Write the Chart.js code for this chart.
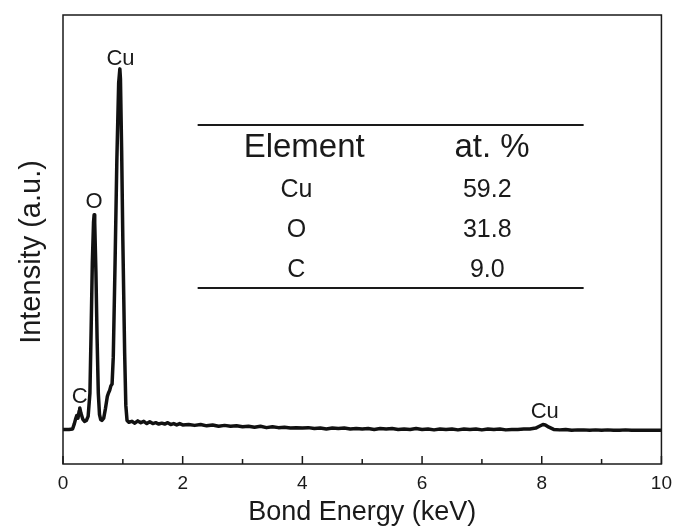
<!DOCTYPE html>
<html>
<head>
<meta charset="utf-8">
<script src="https://cdn.jsdelivr.net/npm/chart.js@4.4.1/dist/chart.umd.min.js"></script>
<style>
  html, body { margin: 0; padding: 0; background: #fff; }
  #wrap { width: 680px; height: 532px; }
</style>
</head>
<body>
<div id="wrap"><canvas id="eds"></canvas></div>
<script>
// スペクトル (keV, 強度 a.u.)
const energies = [
  0.00, 0.10, 0.16, 0.19, 0.21, 0.23, 0.25, 0.27, 0.28, 0.30, 0.33, 0.36, 0.39, 0.42,
  0.45, 0.47, 0.49, 0.51, 0.52, 0.53, 0.55, 0.57, 0.59, 0.61, 0.63, 0.65, 0.68, 0.71,
  0.74, 0.76, 0.78, 0.80, 0.82, 0.84, 0.87, 0.90, 0.93, 0.95, 0.96, 0.98, 1.00, 1.03,
  1.05, 1.07, 1.10,
  1.15, 1.2, 1.25, 1.3, 1.35, 1.4, 1.45, 1.5, 1.55, 1.6, 1.65, 1.7, 1.75, 1.8, 1.85, 1.9, 1.95, 2.0,
  2.1, 2.2, 2.3, 2.4, 2.5, 2.6, 2.7, 2.8, 2.9, 3.0, 3.1, 3.2, 3.3, 3.4, 3.5, 3.6, 3.7, 3.8, 3.9,
  4.0, 4.1, 4.2, 4.3, 4.4, 4.5, 4.6, 4.7, 4.8, 4.9, 5.0, 5.1, 5.2, 5.3, 5.4, 5.5, 5.6, 5.7, 5.8,
  5.9, 6.0, 6.1, 6.2, 6.3, 6.4, 6.5, 6.6, 6.7, 6.8, 6.9, 7.0, 7.1, 7.2, 7.3, 7.4, 7.5, 7.6, 7.7,
  7.8, 7.9, 7.96, 8.02, 8.06, 8.12, 8.2, 8.3, 8.4, 8.5, 8.6, 8.7, 8.8, 8.9, 9.0, 9.1, 9.2, 9.3,
  9.4, 9.5, 9.6, 9.7, 9.8, 9.9, 10.0
];
const counts = [
  77, 77, 78, 90, 100, 108, 102, 118, 125, 113, 100, 95, 97, 106,
  158, 298, 448, 538, 555, 538, 428, 278, 158, 110, 99, 97, 102, 124,
  150, 158, 164, 174, 178, 238, 448, 678, 848, 880, 858, 698, 498, 248,
  130, 97, 93,
  95, 91, 96, 92, 95, 90, 94, 90, 92, 89, 91, 89, 92, 88, 90, 87, 90, 87,
  88, 86, 88, 85, 87, 84, 86, 84, 85, 83, 84, 82, 84, 81, 83, 81, 82, 80, 81,
  80, 81, 79, 80, 78, 80, 79, 80, 78, 79, 78, 79, 77, 79, 78, 79, 77, 78, 77,
  79, 77, 78, 76, 78, 77, 78, 76, 78, 77, 78, 76, 78, 77, 78, 76, 77, 77, 78,
  78, 80, 84, 88, 87, 82, 77, 76, 77, 75, 76, 76, 75, 76, 75, 76, 75, 75,
  76, 75, 75, 75, 75, 75, 75
];

// ピークラベル
const peakNames = ["Cu", "O", "C", "Cu"];
const peakEnergy = [0.96, 0.52, 0.28, 8.05];
const peakLabelY = [889, 570, 136, 102];

// 組成表
const tableHeader = ["Element", "at. %"];
const tableHeaderX = [4.03, 7.17];
const tableHeaderY = 684;
const elements = ["Cu", "O", "C"];
const atPercent = ["59.2", "31.8", "9.0"];
const rowY = [595, 506, 417];
const colX = [3.9, 7.09];
const ruleX = [2.25, 8.70];
const ruleY = [755, 392];

const xMajor = [0, 2, 4, 6, 8, 10];
const xMinor = [1, 3, 5, 7, 9];

const FONT = "'Liberation Sans', Arial, sans-serif";
const INK = "#1a1a1a";

const decorPlugin = {
  id: "decor",
  afterDatasetsDraw(chart) {
    const { ctx, chartArea: a, scales: { x, y } } = chart;
    ctx.save();
    // 枠
    ctx.strokeStyle = INK;
    ctx.lineWidth = 1.5;
    ctx.strokeRect(a.left, a.top, a.right - a.left, a.bottom - a.top);
    // 目盛り（内向き）
    ctx.beginPath();
    xMajor.forEach(v => {
      const px = x.getPixelForValue(v);
      ctx.moveTo(px, a.bottom); ctx.lineTo(px, a.bottom - 8);
    });
    xMinor.forEach(v => {
      const px = x.getPixelForValue(v);
      ctx.moveTo(px, a.bottom); ctx.lineTo(px, a.bottom - 5);
    });
    ctx.stroke();

    ctx.fillStyle = INK;
    ctx.textAlign = "center";
    ctx.textBaseline = "alphabetic";

    // ピークラベル
    ctx.font = "22px " + FONT;
    peakNames.forEach((n, i) => {
      ctx.fillText(n, x.getPixelForValue(peakEnergy[i]), y.getPixelForValue(peakLabelY[i]));
    });

    // 表
    ctx.lineWidth = 1.8;
    ctx.beginPath();
    ruleY.forEach(v => {
      const py = y.getPixelForValue(v);
      ctx.moveTo(x.getPixelForValue(ruleX[0]), py);
      ctx.lineTo(x.getPixelForValue(ruleX[1]), py);
    });
    ctx.stroke();
    ctx.font = "33px " + FONT;
    tableHeader.forEach((t, i) => {
      ctx.fillText(t, x.getPixelForValue(tableHeaderX[i]), y.getPixelForValue(tableHeaderY));
    });
    ctx.font = "25px " + FONT;
    elements.forEach((el, i) => {
      const py = y.getPixelForValue(rowY[i]);
      ctx.fillText(el, x.getPixelForValue(colX[0]), py);
      ctx.fillText(atPercent[i], x.getPixelForValue(colX[1]), py);
    });

    // 縦軸タイトル
    ctx.font = "29px " + FONT;
    ctx.translate(32, 252);
    ctx.rotate(-Math.PI / 2);
    ctx.textBaseline = "middle";
    ctx.fillText("Intensity (a.u.)", 0, 0);
    ctx.restore();
  }
};

new Chart(document.getElementById("eds"), {
  type: "scatter",
  data: {
    datasets: [{
      data: energies.map((e, i) => ({ x: e, y: counts[i] })),
      showLine: true,
      borderColor: "#111",
      borderWidth: 3.5,
      pointRadius: 0,
      tension: 0,
      borderJoinStyle: "round"
    }]
  },
  options: {
    responsive: true,
    maintainAspectRatio: false,
    animation: false,
    events: [],
    layout: { padding: { top: 15, right: 16, left: 0, bottom: 0 } },
    plugins: { legend: { display: false }, tooltip: { enabled: false } },
    scales: {
      x: {
        type: "linear",
        min: 0, max: 10,
        grid: { display: false, drawTicks: false },
        border: { display: false },
        ticks: { stepSize: 2, padding: 8, color: INK, font: { family: FONT, size: 19 }, maxRotation: 0 },
        title: { display: true, text: "Bond Energy (keV)", color: INK, font: { family: FONT, size: 27 }, padding: { top: 0, bottom: 3 } },
        afterFit(s) { s.height = 68; }
      },
      y: {
        min: 0, max: 1000,
        grid: { display: false, drawTicks: false },
        border: { display: false },
        ticks: { display: false },
        afterFit(s) { s.width = 63; }
      }
    }
  },
  plugins: [decorPlugin]
});
</script>
</body>
</html>
